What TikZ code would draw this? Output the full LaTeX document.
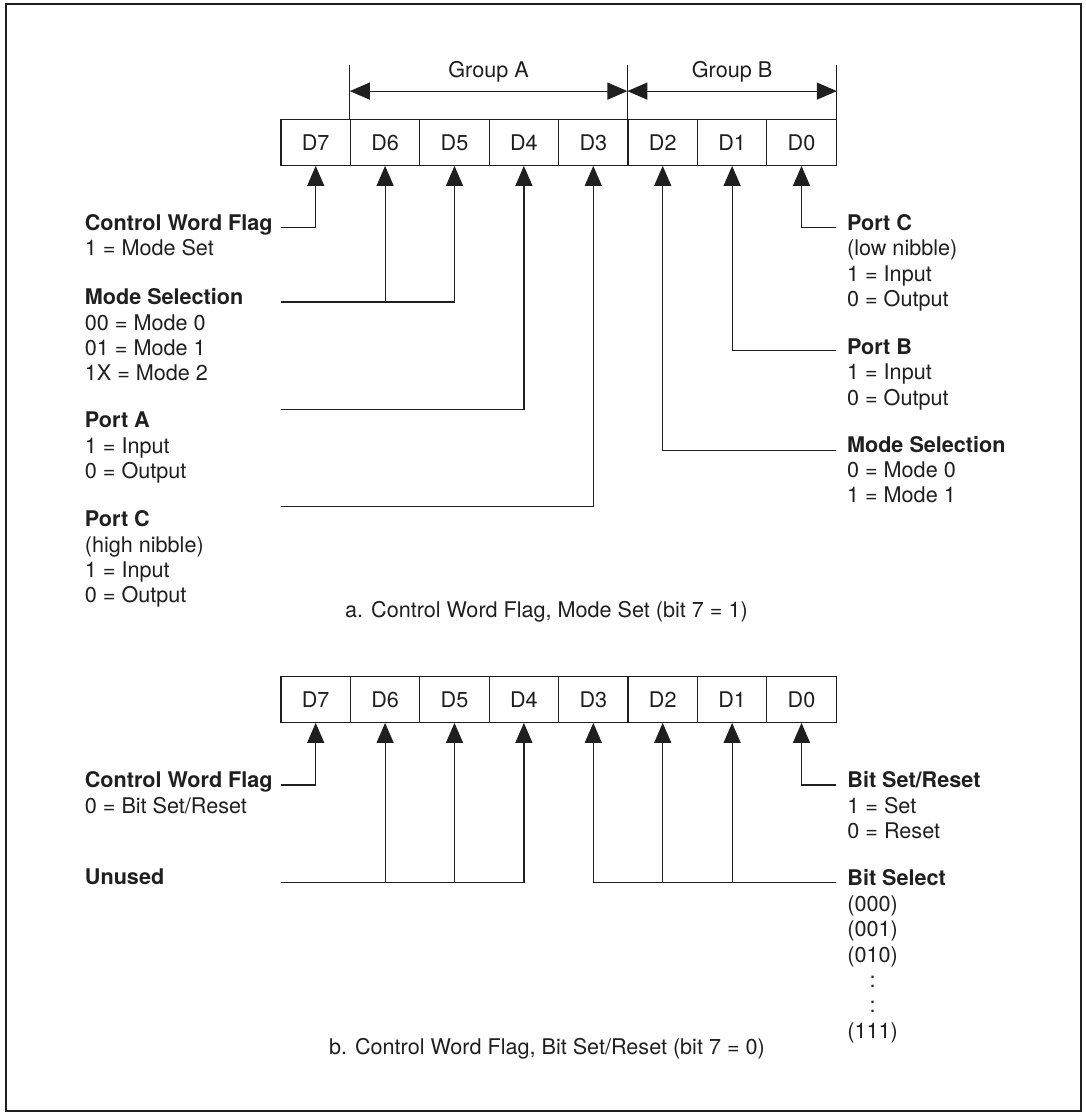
\documentclass[tikz,border=0pt]{standalone}
\usepackage{fontspec}
\setmainfont{TeX Gyre Heros}
\usetikzlibrary{arrows.meta}
\colorlet{ink}{black!88}

\begin{document}
\begin{tikzpicture}[x=0.5pt, y=-0.5pt,
    every node/.style={font=\fontsize{10.8}{12.7}\selectfont, text=ink},
    bitcell/.style={draw=ink, line width=0.6pt, minimum width=34.7pt, minimum height=22.8pt, inner sep=0pt},
    wire/.style={draw=ink, line width=0.6pt},
    bitarrow/.style={wire, -{Triangle[length=10pt,width=8.5pt]}},
    grouparrow/.style={wire, {Triangle[length=10pt,width=8.5pt]}-{Triangle[length=10pt,width=8.5pt]}},
    lbl/.style={anchor=north west, align=left, inner sep=0pt},
    capt/.style={anchor=base, inner sep=0pt}]
    \useasboundingbox (0,0) rectangle (1086,1114);
    \draw[ink, line width=1pt] (5.8,4.3) rectangle (1081.3,1111);
    \foreach \n [count=\i from 0] in {7,...,0} {
        \node[bitcell] (a\n) at ({315.7+69.4*\i},142.5) {D\n};
        \node[bitcell] (b\n) at ({315.7+69.4*\i},699.5) {D\n};
    }
    \draw[wire] (a6.north west) -- ([yshift=27pt]a6.north west);
    \draw[wire] (a2.north west) -- ([yshift=27pt]a2.north west);
    \draw[wire] (a0.north east) -- ([yshift=27pt]a0.north east);
    \draw[grouparrow] ([yshift=14pt]a6.north west) -- node[above=4.3pt, inner sep=0pt] (grpA) {Group A} ([yshift=14pt]a2.north west);
    \draw[grouparrow] ([yshift=14pt]a2.north west) -- node[above=4.3pt, inner sep=0pt] (grpB) {Group B} ([yshift=14pt]a0.north east);

    \coordinate (cwfA) at (281,227.7);
    \coordinate (msA) at (281,302);
    \coordinate (paA) at (281,409.3);
    \coordinate (pcA) at (281,506.7);
    \coordinate (pclA) at (836,227.7);
    \coordinate (pbA) at (836,350.3);
    \coordinate (msbA) at (836,450.7);
    \draw[bitarrow] (cwfA) -| (a7.south);
    \draw[bitarrow] (msA) -| (a5.south);
    \draw[bitarrow] (msA -| a6.south) -- (a6.south);
    \draw[bitarrow] (paA) -| (a4.south);
    \draw[bitarrow] (pcA) -| (a3.south);
    \draw[bitarrow] (pclA) -| (a0.south);
    \draw[bitarrow] (pbA) -| (a1.south);
    \draw[bitarrow] (msbA) -| (a2.south);

    \node[lbl] (cwfAl) at (84.5,214) {\textbf{Control Word Flag}\\1 = Mode Set};
    \node[lbl] (msAl) at (84.5,288.3) {\textbf{Mode Selection}\\00 = Mode 0\\01 = Mode 1\\1X = Mode 2};
    \node[lbl] (paAl) at (84.5,411.6) {\textbf{Port A}\\1 = Input\\0 = Output};
    \node[lbl] (pcAl) at (84.5,510.3) {\textbf{Port C}\\(high nibble)\\1 = Input\\0 = Output};
    \node[lbl] (pclAl) at (846.7,214) {\textbf{Port C}\\(low nibble)\\1 = Input\\0 = Output};
    \node[lbl] (pbAl) at (846.7,338.3) {\textbf{Port B}\\1 = Input\\0 = Output};
    \node[lbl] (msbAl) at (846.7,435.6) {\textbf{Mode Selection}\\0 = Mode 0\\1 = Mode 1};
    \node[capt] (capA) at (546.5,617.3) {a. Control Word Flag, Mode Set (bit 7 = 1)};

    \coordinate (cwfB) at (281,785);
    \coordinate (unB) at (281,882.7);
    \coordinate (bsrB) at (836,785);
    \coordinate (bsB) at (836,882.7);
    \draw[bitarrow] (cwfB) -| (b7.south);
    \draw[bitarrow] (unB) -| (b4.south);
    \draw[bitarrow] (unB -| b6.south) -- (b6.south);
    \draw[bitarrow] (unB -| b5.south) -- (b5.south);
    \draw[bitarrow] (bsB) -| (b3.south);
    \draw[bitarrow] (bsB -| b2.south) -- (b2.south);
    \draw[bitarrow] (bsB -| b1.south) -- (b1.south);
    \draw[bitarrow] (bsrB) -| (b0.south);

    \node[lbl] (cwfBl) at (84.5,771.3) {\textbf{Control Word Flag}\\0 = Bit Set/Reset};
    \node[lbl] (unBl) at (84.5,868.3) {\textbf{Unused}};
    \node[lbl] (bsrBl) at (847,771.3) {\textbf{Bit Set/Reset}\\1 = Set\\0 = Reset};
    \node[lbl] (bsBl) at (847,869.3) {\textbf{Bit Select}\\(000)\\(001)\\(010)\\\makebox[2.34em]{:}\\\makebox[2.34em]{:}\\(111)};
    \node[capt] (capB) at (547,1054) {b. Control Word Flag, Bit Set/Reset (bit 7 = 0)};
\end{tikzpicture}
\end{document}
